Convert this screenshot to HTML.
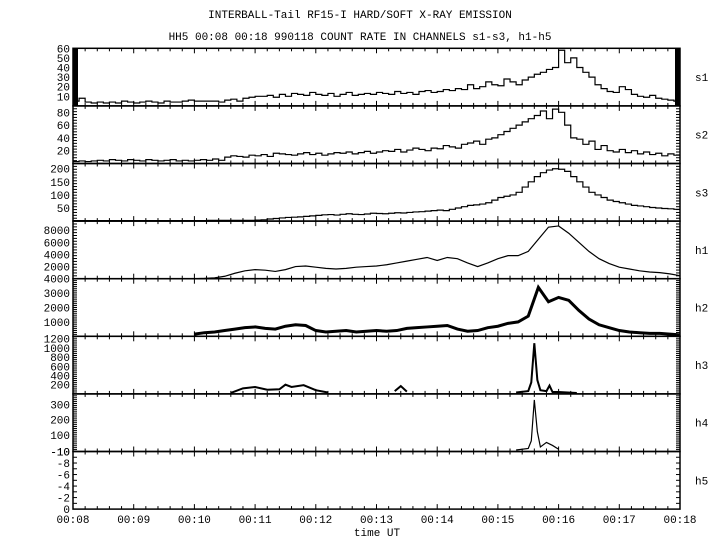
<!DOCTYPE html>
<html><head><meta charset="utf-8"><style>
body{margin:0;background:#fff}
svg text{font-family:"Liberation Mono",monospace;font-size:11px;fill:#000}
</style></head><body>
<svg id="c" width="720" height="550" xmlns="http://www.w3.org/2000/svg">
<text x="360" y="18" text-anchor="middle">INTERBALL-Tail RF15-I HARD/SOFT X-RAY EMISSION</text>
<text x="360" y="40" text-anchor="middle">HH5 00:08 00:18 990118  COUNT RATE IN CHANNELS s1-s3, h1-h5</text>
<text x="377" y="536" text-anchor="middle">time UT</text>
</svg>
<script>
const xTicks=["00:08","00:09","00:10","00:11","00:12","00:13","00:14","00:15","00:16","00:17","00:18"];
const s1=[5,8,4,3,4,3,4,3,5,4,3,4,5,4,3,5,4,4,5,6,5,5,5,5,4,6,7,5,8,9,10,10,11,9,12,10,13,12,11,14,12,11,13,10,12,14,11,12,13,12,14,13,12,15,13,14,12,15,16,14,15,17,16,18,17,22,18,20,25,22,21,28,25,22,27,30,33,35,38,40,58,45,50,40,35,30,22,18,15,14,20,17,12,10,9,11,8,7,6,5];
const s2=[3,4,3,4,5,4,6,5,4,6,5,4,6,5,4,5,6,4,5,4,5,6,5,7,5,10,12,11,10,13,12,14,11,16,15,14,13,15,17,14,16,13,15,17,16,18,15,17,19,16,18,20,19,22,18,21,24,22,20,24,23,28,26,24,30,32,35,30,38,40,45,50,55,60,65,70,75,82,70,85,80,60,40,38,30,35,22,28,20,18,22,17,20,15,18,14,16,12,15,13];
const s3=[2,2,2,2,2,2,2,2,2,2,2,2,2,2,2,2,2,2,2,2,2,2,3,3,3,3,3,3,3,3,4,5,8,10,12,14,15,16,18,20,22,24,25,23,26,28,26,25,27,30,29,28,30,32,31,33,35,36,38,40,42,40,45,50,55,60,62,65,70,80,90,95,100,110,130,150,170,185,195,200,198,190,170,150,130,110,100,90,80,75,70,65,60,58,55,52,50,48,47,45];
const h1=[0,0,0,0,0,0,0,0,0,0,0,0,0,50,150,400,900,1300,1500,1400,1200,1500,2000,2100,1900,1700,1600,1700,1900,2000,2100,2300,2600,2900,3200,3500,3000,3500,3300,2600,2000,2600,3300,3800,3800,4500,6500,8500,8700,7500,6000,4500,3300,2500,1900,1600,1300,1100,1000,800,500];
const h2=[null,null,null,null,null,null,null,null,null,null,null,null,150,250,300,400,500,600,650,550,500,700,800,750,400,300,350,400,300,350,400,350,400,550,600,650,700,750,500,350,400,600,700,900,1000,1400,3400,2400,2700,2500,1800,1200,800,600,400,300,250,200,200,150,100];
const h3t=[2.6,2.8,3.0,3.2,3.4,3.5,3.6,3.8,4.0,4.2,null,5.3,5.4,5.5,null,7.3,7.5,7.55,7.6,7.65,7.7,7.8,7.85,7.9,8.0,8.3];
const h3v=[20,120,150,90,100,200,150,190,80,30,null,60,170,50,null,30,60,250,1100,300,80,60,180,40,40,20];
const h4t=[7.3,7.5,7.55,7.6,7.65,7.7,7.8,7.9,8.0];
const h4v=[0,10,60,330,120,20,50,30,5];
const panels=[
 {n:"s1",min:0,max:60,lab:[10,20,30,40,50,60],data:s1,type:"step"},
 {n:"s2",min:0,max:90,lab:[20,40,60,80],data:s2,type:"step"},
 {n:"s3",min:0,max:220,lab:[50,100,150,200],data:s3,type:"step"},
 {n:"h1",min:0,max:9500,lab:[2000,4000,6000,8000],data:h1,type:"line"},
 {n:"h2",min:0,max:4000,lab:[1000,2000,3000,4000],data:h2,type:"line"},
 {n:"h3",min:0,max:1250,lab:[200,400,600,800,1000,1200],t:h3t,data:h3v,type:"xy"},
 {n:"h4",min:-10,max:370,lab:[100,200,300,-10],t:h4t,data:h4v,type:"xy"},
 {n:"h5",min:0,max:10,lab:[0,-2,-4,-6,-8,-10],data:[],type:"none"}];
const svg=document.getElementById('c');const NS="http://www.w3.org/2000/svg";
const X0=73,X1=680,T0=48.3,PH=57.6;
const xs=m=>X0+(X1-X0)*m/10;
function mk(tag,a,p){const e=document.createElementNS(NS,tag);for(const k in a)e.setAttribute(k,a[k]);(p||svg).appendChild(e);return e;}
panels.forEach((p,i)=>{
 const top=T0+i*PH,bot=top+PH;
 const g=mk('g',{});
 
 
 const ys=v=>bot-(v-p.min)/(p.max-p.min)*PH;
 const fr=mk('rect',{x:X0,y:top,width:X1-X0,height:PH,fill:'none',stroke:'#000','stroke-width':1.5},g);
 
 
 for(let k=0;k<=50;k++){const x=xs(k/5);const L=k%5==0?5:3;
  mk('line',{x1:x,x2:x,y1:top,y2:top+L,stroke:'#000'},g);mk('line',{x1:x,x2:x,y1:bot,y2:bot-L,stroke:'#000'},g);}
 const nm=i==0?12:i<4?20:i==7?10:30;
 for(let k=1;k<nm;k++){const y=top+PH*k/nm;mk('line',{x1:X0,x2:X0+4,y1:y,y2:y,stroke:'#000'},g);mk('line',{x1:X1,x2:X1-4,y1:y,y2:y,stroke:'#000'},g);}
 if(i==0){mk('rect',{x:X0,y:top,width:5,height:PH,fill:'#000'},g);mk('rect',{x:X1-5,y:top,width:5,height:PH,fill:'#000'},g);}
 p.lab.forEach((v,j)=>{let y=p.n=="h5"?bot-j/5*PH:ys(v);
  const t=mk('text',{x:X0-3,y:y+4,'text-anchor':'end'},g);t.textContent=v;
  
  });
 const nl=mk('text',{x:695,y:top+PH/2+4},g);nl.textContent=p.n;
 
 
 let d="";
 if(p.type=="step"){const n=p.data.length;p.data.forEach((v,k)=>{const y=ys(v);d+=(k?"L":"M")+xs(10*k/n)+","+y+"L"+xs(10*(k+1)/n)+","+y;});}
 else if(p.type=="line"){let pen=false;p.data.forEach((v,k)=>{if(v==null){pen=false;return;}d+=(pen?"L":"M")+xs(k/6)+","+ys(v);pen=true;});}
 else if(p.type=="xy"){let pen=false;p.data.forEach((v,k)=>{if(v==null){pen=false;return;}d+=(pen?"L":"M")+xs(p.t[k])+","+ys(v);pen=true;});}
 if(d){const s=mk('path',{d:d,fill:'none',stroke:'#000','stroke-width':p.n=="h2"?3:(p.n=="h3"?2:1.2)},g);
  
  }
});
xTicks.forEach((l,k)=>{const t=mk('text',{x:xs(k),y:523,'text-anchor':'middle'});t.textContent=l;
 
 });
</script>
</body></html>
